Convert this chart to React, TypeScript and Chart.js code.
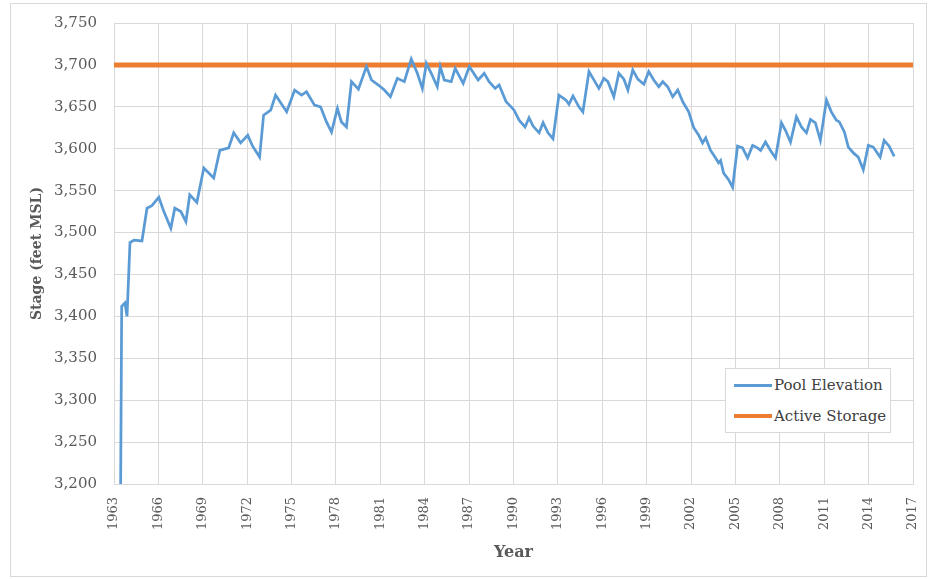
import React, { useEffect, useRef } from "react";
import { Chart, registerables } from "chart.js";

Chart.register(...registerables);

// Pool elevation (decimal year, feet MSL)
const poolYears = [
  1963.45, 1963.52, 1963.74, 1963.88, 1964.08, 1964.35, 1964.89, 1965.23, 1965.56, 1966.03,
  1966.37, 1966.84, 1967.11, 1967.52, 1967.86, 1968.12, 1968.6, 1969.07, 1969.74, 1970.15,
  1970.75, 1971.09, 1971.56, 1972.04, 1972.37, 1972.84, 1973.11, 1973.59, 1973.92, 1974.67,
  1975.21, 1975.68, 1976.01, 1976.55, 1976.96, 1977.36, 1977.7, 1978.1, 1978.37, 1978.71,
  1979.05, 1979.52, 1980.06, 1980.4, 1980.87, 1981.27, 1981.68, 1982.15, 1982.62, 1983.09,
  1983.5, 1983.84, 1984.11, 1984.44, 1984.85, 1985.05, 1985.32, 1985.79, 1986.06, 1986.6,
  1987.01, 1987.61, 1988.02, 1988.35, 1988.76, 1989.03, 1989.5, 1989.84, 1990.04, 1990.38,
  1990.78, 1991.05, 1991.32, 1991.73, 1992.0, 1992.33, 1992.67, 1993.07, 1993.55, 1993.75,
  1994.02, 1994.42, 1994.69, 1995.1, 1995.57, 1995.77, 1996.11, 1996.38, 1996.78, 1997.12,
  1997.46, 1997.73, 1998.06, 1998.4, 1998.81, 1999.14, 1999.48, 1999.82, 2000.09, 2000.42,
  2000.76, 2001.1, 2001.44, 2001.84, 2002.18, 2002.52, 2002.78, 2002.99, 2003.32, 2003.66,
  2003.86, 2004.0, 2004.2, 2004.54, 2004.81, 2005.14, 2005.48, 2005.82, 2006.16, 2006.49,
  2006.7, 2007.03, 2007.37, 2007.71, 2008.11, 2008.38, 2008.72, 2009.12, 2009.46, 2009.8,
  2010.07, 2010.4, 2010.74, 2011.15, 2011.48, 2011.82, 2012.02, 2012.36, 2012.63, 2012.97,
  2013.3, 2013.64, 2013.98, 2014.31, 2014.78, 2015.05, 2015.39, 2015.73,
];
const poolValues = [
  3200, 3412, 3416, 3400, 3488, 3491, 3490, 3529, 3532, 3542,
  3525, 3505, 3529, 3525, 3513, 3545, 3536, 3577, 3565, 3598,
  3601, 3619, 3607, 3616, 3603, 3590, 3640, 3646, 3664, 3644,
  3670, 3664, 3668, 3652, 3650, 3632, 3620, 3648, 3632, 3626,
  3680, 3671, 3698, 3682, 3676, 3670, 3662, 3684, 3680, 3707,
  3690, 3672, 3702, 3690, 3674, 3698, 3682, 3680, 3696, 3678,
  3698, 3682, 3690, 3680, 3672, 3676, 3656, 3650, 3646, 3634,
  3626, 3637, 3627, 3619, 3631, 3619, 3612, 3664, 3658, 3653,
  3663, 3650, 3644, 3692, 3678, 3672, 3684, 3680, 3662, 3690,
  3683, 3670, 3694, 3683, 3677, 3692, 3682, 3674, 3680, 3674,
  3662, 3670, 3656, 3644, 3625, 3616, 3607, 3613, 3598, 3589,
  3583, 3586, 3571, 3563, 3554, 3603, 3601, 3589, 3604, 3601,
  3598, 3608, 3598, 3589, 3631, 3622, 3608, 3638, 3626, 3619,
  3635, 3631, 3610, 3658, 3644, 3634, 3632, 3620, 3602, 3595,
  3590, 3575, 3604, 3602, 3590, 3610, 3603, 3591,
];

// Active storage level
const storageYears = [1963, 2017];
const storageValues = [3700, 3700];

const seriesNames = ["Pool Elevation", "Active Storage"];
const seriesColors = ["#5B9BD5", "#ED7D31"];

const xMin = 1963;
const xMax = 2017;
const xStep = 3;
const yMin = 3200;
const yMax = 3750;
const yStep = 50;

const FONT = "'DejaVu Serif', 'Liberation Serif', serif";
const GRID = "#d9d9d9";
const TEXT = "#595959";
const NONE = "rgba(0,0,0,0)";

export default function App() {
  const canvasRef = useRef<HTMLCanvasElement | null>(null);

  useEffect(() => {
    if (!canvasRef.current) return;
    const chart = new Chart(canvasRef.current, {
      type: "line",
      data: {
        datasets: [
          {
            label: seriesNames[0],
            data: poolYears.map((x, i) => ({ x, y: poolValues[i] })),
            borderColor: seriesColors[0],
            backgroundColor: seriesColors[0],
            borderWidth: 2.75,
            pointRadius: 0,
            tension: 0,
          },
          {
            label: seriesNames[1],
            data: storageYears.map((x, i) => ({ x, y: storageValues[i] })),
            borderColor: seriesColors[1],
            backgroundColor: seriesColors[1],
            borderWidth: 5,
            pointRadius: 0,
            tension: 0,
          },
        ],
      },
      options: {
        responsive: false,
        animation: false,
        layout: { padding: { top: 23, right: 18, left: 0, bottom: 0 } },
        plugins: {
          legend: { display: false },
          tooltip: { enabled: false },
        },
        scales: {
          x: {
            type: "linear",
            min: xMin,
            max: xMax,
            afterFit: (axis: any) => {
              axis.height = 95;
            },
            ticks: {
              stepSize: xStep,
              autoSkip: false,
              minRotation: 90,
              maxRotation: 90,
              padding: 0,
              color: TEXT,
              font: { family: FONT, size: 13 },
              callback: (v: any) => String(v),
            },
            grid: { color: GRID, lineWidth: 1, drawTicks: true, tickLength: 13, tickColor: NONE },
            border: { display: true, color: GRID },
            title: {
              display: true,
              text: "Year",
              color: TEXT,
              font: { family: FONT, size: 16, weight: "bold" },
              padding: { top: 0, bottom: 17 },
            },
          },
          y: {
            type: "linear",
            min: yMin,
            max: yMax,
            afterFit: (axis: any) => {
              axis.width = 114;
            },
            ticks: {
              stepSize: yStep,
              padding: 0,
              color: TEXT,
              font: { family: FONT, size: 15 },
              callback: (v: any) => Number(v).toLocaleString("en-US"),
            },
            grid: { color: GRID, lineWidth: 1, drawTicks: true, tickLength: 17, tickColor: NONE },
            border: { display: true, color: GRID },
            title: {
              display: true,
              text: "Stage (feet MSL)",
              color: TEXT,
              font: { family: FONT, size: 14, weight: "bold" },
              padding: { top: 29, bottom: 0 },
            },
          },
        },
      },
    });
    return () => chart.destroy();
  }, []);

  return (
    <div style={{ position: "absolute", left: 0, top: 0, width: 931, height: 579, background: "#fff" }}>
      <div
        style={{
          position: "absolute",
          left: 10,
          top: 3,
          width: 915,
          height: 572,
          border: `1px solid ${GRID}`,
          pointerEvents: "none",
        }}
      />
      <canvas ref={canvasRef} width={931} height={579} style={{ position: "absolute", left: 0, top: 0 }} />
      <div
        style={{
          position: "absolute",
          left: 725,
          top: 368,
          width: 164,
          height: 63,
          border: `1px solid ${GRID}`,
          background: "#fff",
          fontFamily: FONT,
          fontSize: 15,
          color: "#404040",
        }}
      >
        {seriesNames.map((name, i) => (
          <div
            key={name}
            style={{
              position: "absolute",
              left: 8,
              top: i === 0 ? 6 : 37,
              height: 20,
              display: "flex",
              alignItems: "center",
              whiteSpace: "nowrap",
              fontFamily: FONT,
            }}
          >
            <span
              style={{
                display: "inline-block",
                width: 38,
                height: i === 0 ? 3 : 4,
                background: seriesColors[i],
                marginRight: 2,
              }}
            />
            <span style={{ fontFamily: FONT }}>{name}</span>
          </div>
        ))}
      </div>
    </div>
  );
}
